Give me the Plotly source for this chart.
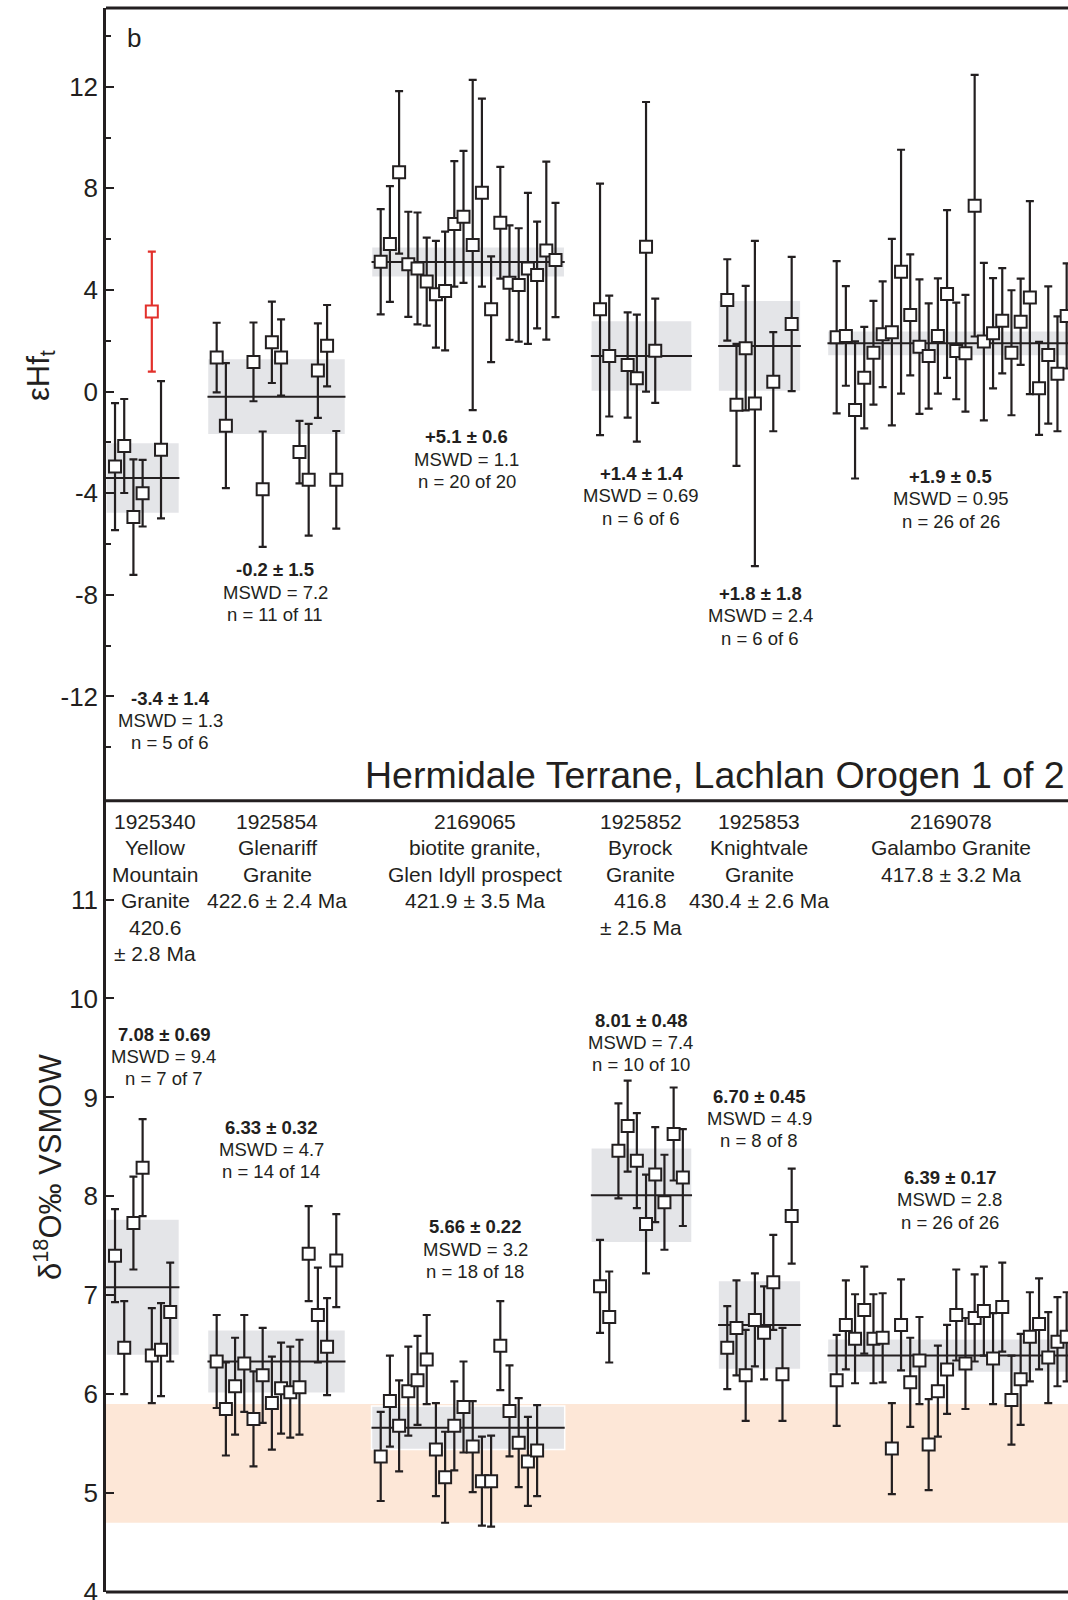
import plotly.graph_objects as go

INK = "#231f20"
RED = "#e2302b"
BAND = "#e4e5e8"
MANTLE = "#fde7d7"
FONT = "Liberation Sans, Arial, Helvetica, sans-serif"

# ---------------- samples ----------------
SAMPLE_IDS = ["1925340", "1925854", "2169065", "1925852", "1925853", "2169078"]
SAMPLE_TEXT = [
    ["1925340", "Yellow", "Mountain", "Granite", "420.6", "± 2.8 Ma"],
    ["1925854", "Glenariff", "Granite", "422.6 ± 2.4 Ma"],
    ["2169065", "biotite granite,", "Glen Idyll prospect", "421.9 ± 3.5 Ma"],
    ["1925852", "Byrock", "Granite", "416.8", "± 2.5 Ma"],
    ["1925853", "Knightvale", "Granite", "430.4 ± 2.6 Ma"],
    ["2169078", "Galambo Granite", "417.8 ± 3.2 Ma"],
]
# analysis spots per sample (zircon grain slots)
SPOT_COUNT = [7, 14, 20, 10, 8, 26]

# ---------------- epsilon Hf(t) ----------------
HF_1925340_SPOT = [0, 1, 2, 3, 5]
HF_1925340 = [-2.95, -2.14, -4.94, -4.00, -2.29]
HF_1925340_ERR = [2.50, 1.85, 2.27, 1.31, 2.70]
HF_1925340_REJ_SPOT = [4]
HF_1925340_REJ = [3.15]
HF_1925340_REJ_ERR = [2.36]

HF_1925854_SPOT = [0, 1, 4, 5, 6, 7, 9, 10, 11, 12, 13]
HF_1925854 = [1.34, -1.34, 1.17, -3.84, 1.94, 1.34, -2.38, -3.47, 0.83, 1.81, -3.47]
HF_1925854_ERR = [1.37, 2.46, 1.55, 2.27, 1.60, 1.50, 1.23, 2.20, 1.86, 1.60, 1.92]

HF_2169065_SPOT = list(range(20))
HF_2169065 = [5.11, 5.81, 8.63, 5.01, 4.85, 4.33, 3.83, 3.96, 6.60, 6.88,
              5.77, 7.83, 3.24, 6.65, 4.29, 4.20, 4.85, 4.59, 5.55, 5.18]
HF_2169065_ERR = [2.07, 2.28, 3.20, 2.07, 2.20, 1.73, 2.10, 2.34, 2.47, 2.60,
                  6.50, 3.70, 2.08, 2.20, 2.25, 2.23, 2.97, 2.10, 3.50, 2.25]

HF_1925852_SPOT = [0, 1, 3, 4, 5, 6]
HF_1925852 = [3.24, 1.40, 1.05, 0.53, 5.70, 1.61]
HF_1925852_ERR = [4.95, 2.38, 2.07, 2.50, 5.70, 2.05]

HF_1925853_SPOT = [0, 1, 2, 3, 5, 7]
HF_1925853 = [3.61, -0.52, 1.71, -0.47, 0.39, 2.66]
HF_1925853_ERR = [1.60, 2.40, 2.45, 6.40, 1.95, 2.64]

HF_2169078_SPOT = list(range(26))
HF_2169078 = [2.14, 2.19, -0.72, 0.55, 1.53, 2.26, 2.34, 4.72, 3.02, 1.77,
              1.40, 2.19, 3.84, 1.60, 1.51, 7.32, 1.97, 2.30, 2.79, 1.53,
              2.75, 3.70, 0.13, 1.44, 0.70, 2.98]
HF_2169078_ERR = [3.00, 1.96, 2.70, 2.00, 2.04, 2.08, 3.67, 4.80, 2.38, 2.65,
                  2.07, 2.27, 3.30, 1.90, 2.30, 5.15, 3.10, 2.17, 2.07, 2.46,
                  1.70, 3.80, 1.83, 2.70, 2.26, 2.07]

HF_MEAN = [-3.4, -0.2, 5.1, 1.4, 1.8, 1.9]
HF_2SE = [1.4, 1.5, 0.6, 1.4, 1.8, 0.5]
HF_MSWD = ["1.3", "7.2", "1.1", "0.69", "2.4", "0.95"]
HF_N_USED = [5, 11, 20, 6, 6, 26]
HF_N_TOTAL = [6, 11, 20, 6, 6, 26]

# ---------------- delta 18O (permil VSMOW) ----------------
O_1925340 = [7.40, 6.47, 7.73, 8.29, 6.39, 6.45, 6.83]
O_1925340_ERR = [0.47, 0.47, 0.47, 0.49, 0.48, 0.47, 0.50]

O_1925854 = [6.33, 5.85, 6.08, 6.31, 5.75, 6.19, 5.91, 6.06, 6.02, 6.07,
             7.42, 6.80, 6.48, 7.35]
O_1925854_ERR = [0.47, 0.47, 0.49, 0.49, 0.48, 0.48, 0.47, 0.46, 0.46, 0.48,
                 0.48, 0.48, 0.49, 0.47]

O_2169065 = [5.37, 5.93, 5.68, 6.03, 6.14, 6.35, 5.44, 5.16, 5.68, 5.87,
             5.47, 5.12, 5.12, 6.49, 5.83, 5.51, 5.32, 5.43]
O_2169065_ERR = [0.45, 0.46, 0.46, 0.45, 0.45, 0.45, 0.47, 0.46, 0.45, 0.46,
                 0.46, 0.45, 0.46, 0.45, 0.46, 0.45, 0.45, 0.46]

O_1925852 = [7.09, 6.78, 8.46, 8.71, 8.36, 7.72, 8.22, 7.94, 8.63, 8.19]
O_1925852_ERR = [0.47, 0.46, 0.48, 0.46, 0.48, 0.50, 0.48, 0.48, 0.47, 0.49]

O_1925853 = [6.47, 6.67, 6.19, 6.75, 6.62, 7.13, 6.20, 7.80]
O_1925853_ERR = [0.42, 0.48, 0.46, 0.47, 0.47, 0.48, 0.47, 0.48]

O_2169078 = [6.14, 6.70, 6.56, 6.85, 6.56, 6.57, 5.45, 6.70, 6.12, 6.34,
             5.49, 6.03, 6.25, 6.80, 6.31, 6.77, 6.84, 6.36, 6.88, 5.94,
             6.15, 6.58, 6.71, 6.37, 6.53, 6.58]
O_2169078_ERR = [0.46, 0.45, 0.45, 0.44, 0.45, 0.45, 0.46, 0.46, 0.45, 0.44,
                 0.46, 0.46, 0.45, 0.46, 0.46, 0.44, 0.45, 0.46, 0.45, 0.45,
                 0.46, 0.45, 0.46, 0.46, 0.45, 0.45]

O_MEAN = [7.08, 6.33, 5.66, 8.01, 6.70, 6.39]
O_2SE = [0.69, 0.32, 0.22, 0.48, 0.45, 0.17]
O_MSWD = ["9.4", "4.7", "3.2", "7.4", "4.9", "2.8"]
O_N_USED = [7, 14, 18, 10, 8, 26]
O_N_TOTAL = [7, 14, 18, 10, 8, 26]

# mantle zircon range, 5.3 +/- 0.6 permil
MANTLE_O = [4.7, 5.9]

HF_Y_TICKS = [-12, -8, -4, 0, 4, 8, 12]
HF_Y_TICKTEXT = ["-12", "-8", "-4", "0", "4", "8", "12"]
HF_Y_MINOR = [-14, -10, -6, -2, 2, 6, 10, 14]
O_Y_TICKS = [4, 5, 6, 7, 8, 9, 10, 11]

TERRANE_TITLE = "Hermidale Terrane, Lachlan Orogen 1 of 2"
PANEL_TAG = "b"

# ---------------- layout constants ----------------
W, H = 1068, 1600
M_L, M_T, M_B = 106, 8, 8
SLOT_PX = 9.2
X_MAX = (W - M_L) / SLOT_PX
SPLIT = 0.4996                     # panel boundary in paper units
GROUP_X0 = [0.98, 12.03, 29.86, 53.70, 67.53, 79.42]   # first slot of each sample

HF_LABEL_X = [6.96, 18.37, 39.2, 58.2, 71.1, 91.8]
HF_LABEL_Y = [-12.06, -7.01, -1.77, -3.21, -7.93, -3.33]
HF_LABEL_STEP = 0.885
O_LABEL_X = [6.3, 17.98, 40.15, 58.1, 71.0, 91.7]
O_LABEL_Y = [9.64, 8.70, 7.69, 9.78, 9.01, 8.19]
O_LABEL_STEP = 0.225
HEAD_X = [5.33, 18.64, 40.15, 58.1, 71.0, 91.8]
HEAD_Y = 11.79
HEAD_STEP = 0.2674

HF_SPOTS = [HF_1925340_SPOT, HF_1925854_SPOT, HF_2169065_SPOT,
            HF_1925852_SPOT, HF_1925853_SPOT, HF_2169078_SPOT]
HF_VALS = [HF_1925340, HF_1925854, HF_2169065, HF_1925852, HF_1925853, HF_2169078]
HF_ERRS = [HF_1925340_ERR, HF_1925854_ERR, HF_2169065_ERR,
           HF_1925852_ERR, HF_1925853_ERR, HF_2169078_ERR]
O_VALS = [O_1925340, O_1925854, O_2169065, O_1925852, O_1925853, O_2169078]
O_ERRS = [O_1925340_ERR, O_1925854_ERR, O_2169065_ERR,
          O_1925852_ERR, O_1925853_ERR, O_2169078_ERR]


def spot_x(g, spots):
    return [GROUP_X0[g] + s for s in spots]


def points(x, y, err, xa, ya, color=INK):
    return go.Scatter(
        x=x, y=y, xaxis=xa, yaxis=ya, mode="markers", showlegend=False,
        hoverinfo="skip",
        marker=dict(symbol="square", size=12, color="white",
                    line=dict(color=color, width=2)),
        error_y=dict(type="data", array=err, symmetric=True, color=color,
                     thickness=2.2, width=4),
    )


fig = go.Figure()
shapes = []
ann = []

# mantle-zircon field in the oxygen panel
shapes.append(dict(type="rect", xref="x2", yref="y2", x0=0, x1=X_MAX,
                   y0=MANTLE_O[0], y1=MANTLE_O[1], fillcolor=MANTLE,
                   line=dict(width=0), layer="below"))

for g in range(len(SAMPLE_IDS)):
    bx0 = GROUP_X0[g] - 1
    bx1 = min(GROUP_X0[g] + SPOT_COUNT[g], X_MAX + 1)
    for xr, yr, mean, err in (("x", "y", HF_MEAN[g], HF_2SE[g]),
                              ("x2", "y2", O_MEAN[g], O_2SE[g])):
        shapes.append(dict(type="rect", xref=xr, yref=yr, x0=bx0, x1=bx1,
                           y0=mean - err, y1=mean + err, fillcolor=BAND,
                           line=dict(color="white", width=1.5), layer="below"))
    for xr, yr, mean in (("x", "y", HF_MEAN[g]), ("x2", "y2", O_MEAN[g])):
        shapes.append(dict(type="line", xref=xr, yref=yr, x0=bx0, x1=bx1,
                           y0=mean, y1=mean, line=dict(color=INK, width=2),
                           layer="below"))

    # data points
    fig.add_trace(points(spot_x(g, HF_SPOTS[g]), HF_VALS[g], HF_ERRS[g], "x", "y"))
    fig.add_trace(points(spot_x(g, range(len(O_VALS[g]))), O_VALS[g], O_ERRS[g],
                         "x2", "y2"))

    # weighted-mean labels
    hf_lines = ["<b>%+.1f ± %.1f</b>" % (HF_MEAN[g], HF_2SE[g]),
                "MSWD = " + HF_MSWD[g],
                "n = %d of %d" % (HF_N_USED[g], HF_N_TOTAL[g])]
    for k, t in enumerate(hf_lines):
        ann.append(dict(xref="x", yref="y", x=HF_LABEL_X[g],
                        y=HF_LABEL_Y[g] - k * HF_LABEL_STEP, text=t,
                        showarrow=False, xanchor="center", yanchor="middle",
                        font=dict(size=18.5, color=INK)))
    o_lines = ["<b>%.2f ± %.2f</b>" % (O_MEAN[g], O_2SE[g]),
               "MSWD = " + O_MSWD[g],
               "n = %d of %d" % (O_N_USED[g], O_N_TOTAL[g])]
    for k, t in enumerate(o_lines):
        ann.append(dict(xref="x2", yref="y2", x=O_LABEL_X[g],
                        y=O_LABEL_Y[g] - k * O_LABEL_STEP, text=t,
                        showarrow=False, xanchor="center", yanchor="middle",
                        font=dict(size=18.5, color=INK)))
    # sample heading
    for k, t in enumerate(SAMPLE_TEXT[g]):
        ann.append(dict(xref="x2", yref="y2", x=HEAD_X[g],
                        y=HEAD_Y - k * HEAD_STEP, text=t, showarrow=False,
                        xanchor="center", yanchor="middle",
                        font=dict(size=21, color=INK)))

# rejected Hf analysis
fig.add_trace(points(spot_x(0, HF_1925340_REJ_SPOT), HF_1925340_REJ,
                     HF_1925340_REJ_ERR, "x", "y", color=RED))

# frame lines
for yp in (1.0, SPLIT, 0.0):
    shapes.append(dict(type="line", xref="paper", yref="paper", x0=0, x1=1,
                       y0=yp, y1=yp, line=dict(color=INK, width=3)))

ann += [
    dict(xref="paper", yref="paper", x=1, y=0.5155, xanchor="right",
         yanchor="middle", xshift=-1, text=TERRANE_TITLE, showarrow=False,
         font=dict(size=37.5, color=INK)),
    dict(xref="paper", yref="paper", x=0.0287, y=0.9813, xanchor="center",
         yanchor="middle", text=PANEL_TAG, showarrow=False,
         font=dict(size=26, color=INK)),
    dict(xref="paper", yref="paper", x=-0.0676, y=0.7683, xanchor="center",
         yanchor="middle", text="εHf<sub>t</sub>", textangle=-90,
         showarrow=False, font=dict(size=31, color=INK)),
    dict(xref="paper", yref="paper", x=-0.0603, y=0.2683, xanchor="center",
         yanchor="middle", text="δ<sup>18</sup>O‰ VSMOW", textangle=-90,
         showarrow=False, font=dict(size=31, color=INK)),
]

yax_common = dict(showline=True, linecolor=INK, linewidth=2.5, ticks="inside",
                  ticklen=8, tickwidth=2, tickcolor=INK, showgrid=False,
                  zeroline=False, tickfont=dict(size=26, color=INK),
                  mirror=False, ticklabeloverflow="allow", automargin=False)

fig.update_layout(
    width=W, height=H,
    margin=dict(l=M_L, r=0, t=M_T, b=M_B, autoexpand=False),
    paper_bgcolor="white", plot_bgcolor="white",
    font=dict(family=FONT, color=INK),
    showlegend=False,
    xaxis=dict(domain=[0, 1], range=[0, X_MAX], visible=False, anchor="y"),
    xaxis2=dict(domain=[0, 1], range=[0, X_MAX], visible=False, anchor="y2"),
    yaxis=dict(domain=[SPLIT, 1], range=[-16.1, 15.1], anchor="x",
               tickmode="array", tickvals=HF_Y_TICKS, ticktext=HF_Y_TICKTEXT,
               minor=dict(tickmode="array", tickvals=HF_Y_MINOR, ticks="inside",
                          ticklen=5, tickwidth=2, tickcolor=INK),
               **yax_common),
    yaxis2=dict(domain=[0, SPLIT], range=[4, 12], anchor="x2",
                tickmode="array", tickvals=O_Y_TICKS, **yax_common),
    shapes=shapes,
    annotations=ann,
)

fig.write_html("out.html")
